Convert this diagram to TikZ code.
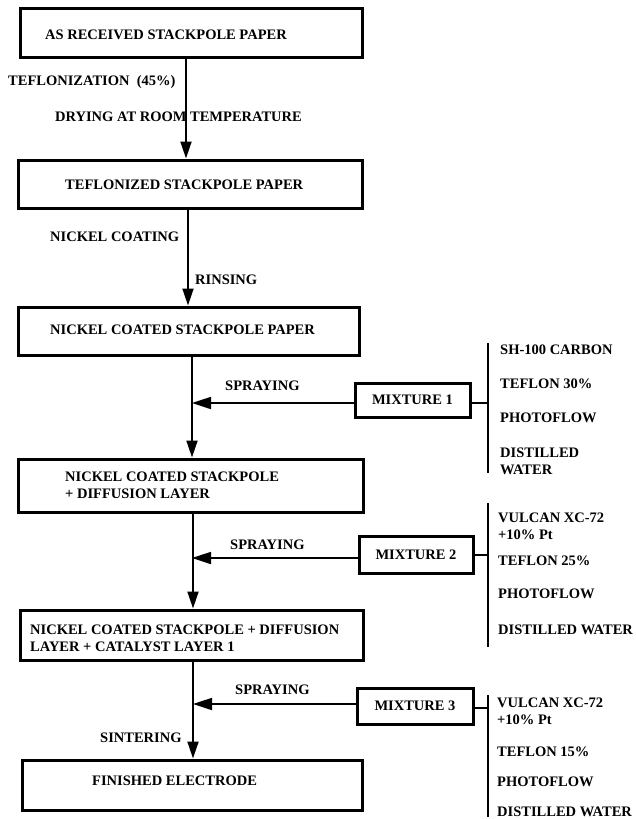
\documentclass[tikz,border=0pt]{standalone}
\usepackage{fontspec}
\setmainfont{Liberation Serif}
\usetikzlibrary{arrows.meta}
\begin{document}
\begin{tikzpicture}[x=1pt,y=-1pt,
  every node/.style={font=\fontsize{14.5}{17}\selectfont\bfseries, inner sep=0pt},
  box/.style={draw, line width=3pt, rectangle, inner sep=0pt},
  mixbox/.style={draw, line width=3pt, rectangle, inner sep=0pt},
  lbl/.style={anchor=west, align=left},
  flow/.style={line width=1.9pt, -{Triangle[length=17pt,width=11pt]}},
  feed/.style={line width=1.7pt, -{Triangle[length=19pt,width=12pt]}},
  brace/.style={line width=1.6pt}]
\useasboundingbox (0,0) rectangle (635,819);

% main boxes
\node[box, minimum width=342, minimum height=49] (b1) at (191,32.5) {};
\node[box, minimum width=344, minimum height=48] (b2) at (190,184) {};
\node[box, minimum width=341, minimum height=48] (b3) at (188.5,331) {};
\node[box, minimum width=345, minimum height=53] (b4) at (190.5,485.5) {};
\node[box, minimum width=343, minimum height=50] (b5) at (191.5,635) {};
\node[box, minimum width=340, minimum height=50] (b6) at (192,785) {};

% box texts
\node[lbl] (t1) at (45,35) {AS RECEIVED STACKPOLE PAPER};
\node[lbl] (t2) at (65,185) {TEFLONIZED STACKPOLE PAPER};
\node[lbl] (t3) at (50,330) {NICKEL COATED STACKPOLE PAPER};
\node[lbl] (t4) at (65,485.5) {NICKEL COATED STACKPOLE\\+ DIFFUSION LAYER};
\node[lbl] (t5) at (30,638.5) {NICKEL COATED STACKPOLE + DIFFUSION\\LAYER + CATALYST LAYER 1};
\node[lbl] (t6) at (92,781) {FINISHED ELECTRODE};

% process labels
\node[lbl] (l1) at (8,82) {TEFLONIZATION\ \ (45\%)};
\node[lbl] (l2) at (55,117) {DRYING AT ROOM TEMPERATURE};
\node[lbl] (l3) at (50,237) {NICKEL COATING};
\node[lbl] (l4) at (195,280) {RINSING};
\node[lbl] (s1) at (225,386) {SPRAYING};
\node[lbl] (s2) at (230,545) {SPRAYING};
\node[lbl] (s3) at (235,690) {SPRAYING};
\node[lbl] (l5) at (100,738) {SINTERING};

% main flow arrows
\draw[flow] (186,57) coordinate (a1s) -- (a1s |- b2.north);
\draw[flow] (188,208) coordinate (a2s) -- (a2s |- b3.north);
\draw[flow] (192,355) coordinate (a3s) -- (a3s |- b4.north);
\draw[flow] (193,512) coordinate (a4s) -- (a4s |- b5.north);
\draw[flow] (193,660) coordinate (a5s) -- (a5s |- b6.north);

% mixture boxes
\node[mixbox, minimum width=115, minimum height=34] (m1) at (412.5,400) {MIXTURE 1};
\node[mixbox, minimum width=114, minimum height=37] (m2) at (416,555) {MIXTURE 2};
\node[mixbox, minimum width=116, minimum height=36] (m3) at (415,706) {MIXTURE 3};

% junctions on main line
\coordinate (j1) at (192,403);
\coordinate (j2) at (192,558);
\coordinate (j3) at (193,704);
\draw[feed] (m1.west |- j1) -- (j1);
\draw[feed] (m2.west |- j2) -- (j2);
\draw[feed] (m3.west |- j3) -- (j3);

% ingredient brackets
\coordinate (k1t) at (488,343); \coordinate (k1b) at (488,473);
\coordinate (k2t) at (488,503); \coordinate (k2b) at (488,647);
\coordinate (k3t) at (488,695); \coordinate (k3b) at (488,817);
\draw[brace] (k1t) -- (k1b);
\draw[brace] (k2t) -- (k2b);
\draw[brace] (k3t) -- (k3b);
\draw[brace] (m1.east |- 0,403) -- (488,403);
\draw[brace] (m2.east) -- (m2.east -| k2t);
\draw[brace] (m3.east |- 0,708) -- (488,708);

% ingredients
\node[lbl] (i11) at (500,350) {SH-100 CARBON};
\node[lbl] (i12) at (500,384) {TEFLON 30\%};
\node[lbl] (i13) at (500,418) {PHOTOFLOW};
\node[lbl] (i14) at (500,461) {DISTILLED\\WATER};

\node[lbl] (i21) at (498,526) {VULCAN XC-72\\+10\% Pt};
\node[lbl] (i22) at (498,561) {TEFLON 25\%};
\node[lbl] (i23) at (498,594) {PHOTOFLOW};
\node[lbl] (i24) at (498,630) {DISTILLED WATER};

\node[lbl] (i31) at (497,711) {VULCAN XC-72\\+10\% Pt};
\node[lbl] (i32) at (497,752) {TEFLON 15\%};
\node[lbl] (i33) at (497,782) {PHOTOFLOW};
\node[lbl] (i34) at (497,812) {DISTILLED WATER};
\end{tikzpicture}
\end{document}
